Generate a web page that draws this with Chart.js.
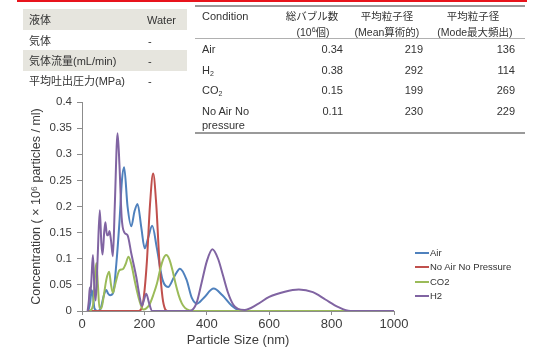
<!DOCTYPE html>
<html><head><meta charset="utf-8">
<script src="https://cdn.jsdelivr.net/npm/chart.js@4"></script>
<style>
html,body{margin:0;padding:0;background:#fff;}
#wrap{position:relative;width:555px;height:357px;overflow:hidden;font-family:"Liberation Sans",Arial,"Noto Sans CJK JP",sans-serif;color:#333;}
canvas{position:absolute;left:0;top:0;}
.c{position:absolute;height:14px;line-height:14px;font-size:11px;white-space:nowrap;}
.h{font-size:10.5px;}
.r{text-align:right;}
.m{text-align:center;width:110px;}
.bg{position:absolute;background:#e6e5de;}
.rule{position:absolute;background:#9a9a9a;}
.lg{position:absolute;left:415px;font-size:9.5px;height:12px;line-height:12px;white-space:nowrap;}
.lg i{display:inline-block;width:14px;height:1.5px;vertical-align:middle;margin-right:1px;margin-top:-1px;}
sub{font-size:7px;vertical-align:-2px;line-height:0;}
sup{font-size:7px;vertical-align:4px;line-height:0;}
</style>
</head><body>
<div id="wrap">
<canvas id="cv" width="555" height="357"></canvas>
<div style="position:absolute;left:17px;top:0;width:510px;height:2px;background:#e8141c"></div>

<div class="bg" style="left:23px;top:9px;width:164px;height:21px"></div>
<div class="bg" style="left:23px;top:50px;width:164px;height:21px"></div>
<div class="c" style="left:29px;top:13px">液体</div>
<div class="c" style="left:147px;top:13px">Water</div>
<div class="c" style="left:29px;top:34px">気体</div>
<div class="c" style="left:148px;top:34px">-</div>
<div class="c" style="left:29px;top:54px">気体流量(mL/min)</div>
<div class="c" style="left:148px;top:54px">-</div>
<div class="c" style="left:29px;top:74px">平均吐出圧力(MPa)</div>
<div class="c" style="left:148px;top:74px">-</div>

<div class="rule" style="left:195px;top:5px;width:330px;height:2px"></div>
<div class="rule" style="left:195px;top:38px;width:330px;height:1px;background:#b0b0b0"></div>
<div class="rule" style="left:195px;top:132px;width:330px;height:2px"></div>
<div class="c" style="left:202px;top:9px">Condition</div>
<div class="c h m" style="left:257px;top:9px">総バブル数</div>
<div class="c h m" style="left:258px;top:25px">(10<sup>6</sup>個)</div>
<div class="c h m" style="left:332px;top:9px">平均粒子径</div>
<div class="c h m" style="left:332px;top:25px">(Mean算術的)</div>
<div class="c h m" style="left:418px;top:9px">平均粒子径</div>
<div class="c h m" style="left:420px;top:25px">(Mode最大頻出)</div>

<div class="c" style="left:202px;top:42px">Air</div>
<div class="c r" style="right:212px;top:42px">0.34</div>
<div class="c r" style="right:132px;top:42px">219</div>
<div class="c r" style="right:40px;top:42px">136</div>
<div class="c" style="left:202px;top:63px">H<sub>2</sub></div>
<div class="c r" style="right:212px;top:63px">0.38</div>
<div class="c r" style="right:132px;top:63px">292</div>
<div class="c r" style="right:40px;top:63px">114</div>
<div class="c" style="left:202px;top:83px">CO<sub>2</sub></div>
<div class="c r" style="right:212px;top:83px">0.15</div>
<div class="c r" style="right:132px;top:83px">199</div>
<div class="c r" style="right:40px;top:83px">269</div>
<div class="c" style="left:202px;top:104px">No Air No</div>
<div class="c" style="left:202px;top:118px">pressure</div>
<div class="c r" style="right:212px;top:104px">0.11</div>
<div class="c r" style="right:132px;top:104px">230</div>
<div class="c r" style="right:40px;top:104px">229</div>

<div id="legend"></div>
</div>
<script>
// ---- data ----
const seriesNames = ['Air', 'No Air No Pressure', 'CO2', 'H2'];
const seriesColors = ['#4f81bd', '#c0504d', '#9bbb59', '#8064a2'];
const xTicks = [0, 200, 400, 600, 800, 1000];
const yTicks = [0, 0.05, 0.1, 0.15, 0.2, 0.25, 0.3, 0.35, 0.4];

const airX = [20,26,31,35,40,50,60,70,78,84,90,100,110,120,128,135,146,158,168,178,190,201,212,225,240,258,276,295,314,335,352,369,390,422,450,480,510,1000];
const airY = [0,0.015,0.04,0.03,0.005,0,0.005,0.03,0.04,0.033,0.03,0.035,0.09,0.17,0.25,0.275,0.2,0.162,0.19,0.205,0.16,0.12,0.14,0.163,0.12,0.06,0.046,0.065,0.081,0.06,0.025,0.014,0.025,0.043,0.03,0.01,0,0];

const noAirX = [20,182,190,198,208,218,228,238,248,258,266,274,1000];
const noAirY = [0,0,0.004,0.026,0.095,0.204,0.263,0.204,0.095,0.026,0.004,0,0];

const co2X = [25,35,41,46,51,56,62,70,78,87,93,99,108,120,131,140,149,158,170,184,196,206,216,228,240,250,260,270,280,290,300,310,320,330,345,360,1000];
const co2Y = [0,0.01,0.06,0.092,0.05,0.005,0.005,0.03,0.06,0.075,0.05,0.035,0.055,0.078,0.08,0.09,0.104,0.09,0.055,0.02,0.003,0.005,0.012,0.03,0.052,0.078,0.099,0.107,0.099,0.078,0.052,0.03,0.0145,0.006,0.001,0,0];

const h2X = [18,22,25,27,30,35,40,44,50,57,62,66,71,75,80,84,88,93,99,105,114,120,127,136,146,158,174,184,192,198,206,215,225,345,367,383,400,418,436,452,468,485,500,521,560,600,650,695,740,780,820,860,1000];
const h2Y = [0,0.02,0.045,0.035,0.058,0.107,0.04,0.02,0.1,0.193,0.13,0.108,0.15,0.17,0.145,0.145,0.153,0.135,0.105,0.2,0.34,0.28,0.18,0.15,0.145,0.11,0.065,0.03,0.01,0.02,0.033,0.015,0,0,0.015,0.053,0.095,0.118,0.1,0.068,0.035,0.012,0.004,0.002,0.012,0.027,0.037,0.041,0.036,0.022,0.008,0,0];

const xs = [airX, noAirX, co2X, h2X];
const ys = [airY, noAirY, co2Y, h2Y];
const drawOrder = [4, 3, 2, 1];

const datasets = seriesNames.map((name, i) => ({
  label: name,
  data: xs[i].map((x, k) => ({x: x, y: ys[i][k]})),
  borderColor: seriesColors[i],
  backgroundColor: seriesColors[i],
  borderWidth: 2,
  pointRadius: 0,
  fill: false,
  cubicInterpolationMode: 'monotone',
  order: drawOrder[i]
}));

// legend (HTML text)
const lg = document.getElementById('legend');
const lgTop = [247, 261, 276, 290];
seriesNames.forEach((n, i) => {
  const d = document.createElement('div');
  d.className = 'lg';
  d.style.top = lgTop[i] + 'px';
  d.innerHTML = '<i style="background:' + seriesColors[i] + '"></i>' + n;
  lg.appendChild(d);
});

const tickColor = '#3c3c3c';
const axisColor = '#8c8c8c';
new Chart(document.getElementById('cv'), {
  type: 'line',
  data: { datasets },
  options: {
    responsive: false,
    animation: false,
    devicePixelRatio: 1,
    layout: { padding: { left: 0, right: 161, top: 102, bottom: 0 } },
    plugins: { legend: { display: false }, tooltip: { enabled: false } },
    scales: {
      x: {
        type: 'linear', min: 0, max: 1000,
        afterFit: s => { s.height = 46; },
        afterBuildTicks: s => { s.ticks = xTicks.map(v => ({value: v})); },
        ticks: { color: tickColor, font: { family: '"Liberation Sans", Arial', size: 13 }, padding: 2, maxRotation: 0,
          callback: v => String(v) },
        grid: { display: true, drawOnChartArea: false, drawTicks: true, tickLength: 4, color: axisColor },
        border: { color: axisColor, width: 1 },
        title: { display: true, text: 'Particle Size (nm)', color: tickColor, font: { family: '"Liberation Sans", Arial', size: 13 }, padding: { top: 0, bottom: 9 } }
      },
      y: {
        type: 'linear', min: 0, max: 0.4,
        afterFit: s => { s.width = 82; },
        afterBuildTicks: s => { s.ticks = yTicks.map(v => ({value: v})); },
        ticks: { color: tickColor, font: { family: '"Liberation Sans", Arial', size: 11.5 }, padding: 5,
          callback: v => String(Number(v.toFixed(2))) },
        grid: { display: true, drawOnChartArea: false, drawTicks: true, tickLength: 5, color: axisColor },
        border: { color: axisColor, width: 1 },
        title: { display: true, text: 'Concentration ( × 10⁶ particles / ml)', color: tickColor, font: { family: '"Liberation Sans", Arial', size: 12.5 }, padding: { top: 29.5, bottom: 0 } }
      }
    }
  }
});
</script>
</body></html>
